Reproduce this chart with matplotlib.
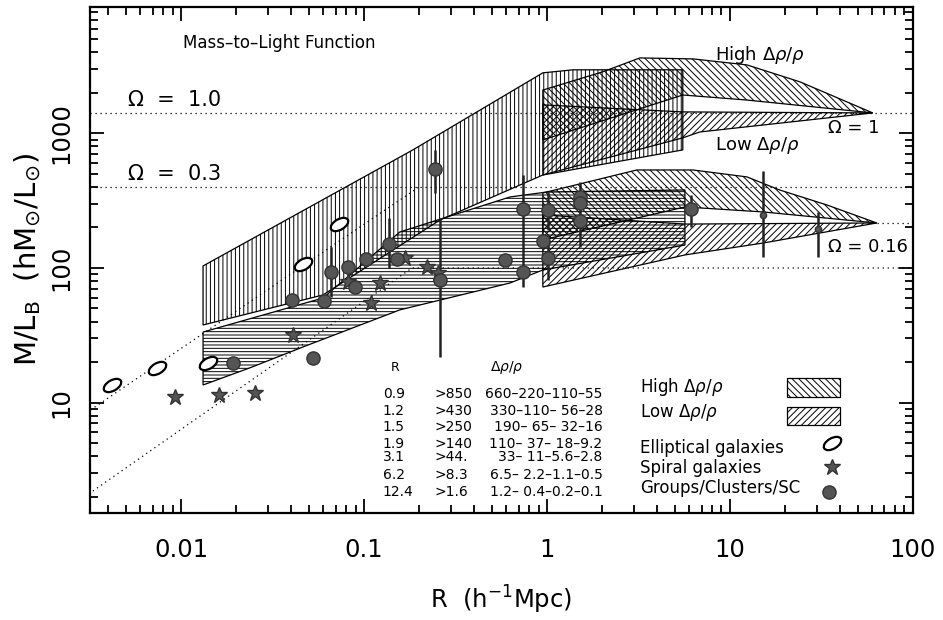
import matplotlib
matplotlib.use("Agg")
import matplotlib.pyplot as plt
from matplotlib.path import Path
from matplotlib.transforms import Affine2D
from matplotlib.patches import Rectangle

plt.rcParams["font.family"] = ["DejaVu Sans"]
plt.rcParams["mathtext.fontset"] = "dejavusans"
plt.rcParams["hatch.linewidth"] = 0.7

# ---- data (R in h^-1 Mpc, M/L_B in h M_sun/L_sun) ----
ell_r = [0.0042, 0.0074, 0.0141, 0.0465, 0.073]
ell_ml = [13.5, 18.1, 19.7, 107, 212]

sp_r = [0.0093, 0.0161, 0.0254, 0.041, 0.082, 0.122, 0.109, 0.168, 0.221, 0.254]
sp_ml = [11.0, 11.4, 11.8, 31.8, 78.7, 77.3, 55, 119, 102, 92]

gc_r = [0.0192, 0.0526, 0.0404, 0.0604, 0.066, 0.082, 0.0893, 0.1025, 0.137, 0.151,
        0.244, 0.26, 0.589, 0.74, 0.74, 0.95, 1.01, 1.01, 1.51, 1.51, 1.51, 6.1]
gc_ml = [19.7, 21.4, 57.8, 56.9, 93.4, 102, 72.2, 117, 151, 117,
         545, 81.5, 115, 275, 93, 159, 270, 119, 337, 304, 223, 275]

sc_r = [15.1, 30.3]
sc_ml = [248, 195]

err_r = [0.066, 0.137, 0.244, 0.26, 0.74, 1.01, 1.01, 1.51, 6.1, 15.1, 30.3]
err_lo = [60.8, 100, 361, 21.8, 72, 192, 81.5, 143, 202, 121, 121]
err_hi = [143, 235, 754, 235, 491, 367, 173, 436, 349, 526, 261]

# bands: (R, M/L) along the upper edge then back along the lower edge
vert_band = [(0.0132, 103.5), (0.185, 754), (0.95, 2820), (1.39, 2970), (5.53, 2970),
             (5.53, 754), (0.95, 491), (0.26, 227), (0.0597, 63), (0.0132, 37.7)]
horiz_band = [(0.0132, 33.4), (0.0597, 59.8), (0.157, 185), (0.628, 337), (1.0, 367), (5.68, 380),
              (5.68, 148), (0.95, 96.6), (0.628, 77.3), (0.157, 48.8), (0.0465, 25.9),
              (0.0238, 18.1), (0.0132, 13.5)]
hi_om1 = [(0.95, 2100), (2.02, 2870), (3.22, 3640), (6.28, 3580), (12.4, 3230), (24.2, 2415),
          (60.4, 1420), (12.4, 1770), (5.53, 1930), (0.95, 895)]
lo_om1 = [(0.95, 1630), (5.53, 1445), (60.4, 1420), (6.85, 1025), (5.53, 927), (0.95, 491)]
hi_om016 = [(0.95, 361), (3.1, 535), (6.28, 535), (12.4, 475), (18.7, 380), (33.9, 294),
            (63.5, 216), (15.1, 261), (5.68, 284), (0.95, 162)]
lo_om016 = [(0.95, 248), (5.68, 212), (63.5, 216), (15.1, 153), (5.68, 125), (0.95, 72.2)]

# dotted reference lines
om1_level = 1420
om03_level = 400
om016_level = 216
ell_line = [(0.0032, 8.8), (0.2, 400)]
sp_line = [(0.0033, 2.2), (0.183, 100), (100, 100)]

table_r = ["0.9", "1.2", "1.5", "1.9", "3.1", "6.2", "12.4"]
table_dn = [">850", ">430", ">250", ">140", ">44.", ">8.3", ">1.6"]
table_rng = ["660–220–110–55", "330–110– 56–28", "190– 65– 32–16", "110– 37– 18–9.2",
             "33– 11–5.6–2.8", "6.5– 2.2–1.1–0.5", "1.2– 0.4–0.2–0.1"]

fig = plt.figure(figsize=(9.43, 6.2), dpi=100)
ax = fig.add_axes([0.0954, 0.1726, 0.8726, 0.8161])
ax.set_xscale("log")
ax.set_yscale("log")
ax.set_xlim(0.00318, 100)
ax.set_ylim(1.51, 8700)


def band(pts, hatch):
    xs = [p[0] for p in pts]
    ys = [p[1] for p in pts]
    ax.fill(xs, ys, facecolor="none", edgecolor="black", hatch=hatch, linewidth=0.9, zorder=2)


band(vert_band, "||||")
band(horiz_band, "-----")
band(hi_om1, "\\\\\\\\\\")
band(lo_om1, "/////")
band(hi_om016, "\\\\\\\\\\")
band(lo_om016, "/////")

dot = dict(color="black", linestyle=(0, (1, 3)), linewidth=0.9, zorder=1)
ax.axhline(om1_level, **dot)
ax.axhline(om03_level, **dot)
ax.plot([63.5, 100], [om016_level, om016_level], **dot)
ax.plot([p[0] for p in ell_line], [p[1] for p in ell_line], **dot)
ax.plot([p[0] for p in sp_line], [p[1] for p in sp_line], **dot)

ax.vlines(err_r, err_lo, err_hi, color="#222222", linewidth=1.8, zorder=3)

ell_marker = Path.unit_circle().transformed(Affine2D().scale(1.0, 0.55).rotate_deg(30))
ax.plot(ell_r, ell_ml, linestyle="none", marker=ell_marker, markersize=13,
        markerfacecolor="white", markeredgecolor="black", markeredgewidth=1.6, zorder=4)
ax.plot(sp_r, sp_ml, linestyle="none", marker="*", markersize=12,
        color="#555555", markeredgecolor="#333333", zorder=4)
ax.plot(gc_r, gc_ml, linestyle="none", marker="o", markersize=9.5,
        color="#555555", markeredgecolor="#333333", zorder=4)
ax.plot(sc_r, sc_ml, linestyle="none", marker="o", markersize=4.5,
        color="#555555", markeredgecolor="#333333", zorder=4)

# labels on the plot
ax.text(0.113, 0.929, "Mass–to–Light Function", transform=ax.transAxes, fontsize=12, va="center")
ax.text(0.046, 0.816, "Ω  =  1.0", transform=ax.transAxes, fontsize=15, va="center")
ax.text(0.046, 0.670, "Ω  =  0.3", transform=ax.transAxes, fontsize=15, va="center")
ax.text(0.759, 0.905, r"High $\Delta\rho/\rho$", transform=ax.transAxes, fontsize=13, va="center")
ax.text(0.759, 0.727, r"Low $\Delta\rho/\rho$", transform=ax.transAxes, fontsize=13, va="center")
ax.text(0.897, 0.761, "Ω = 1", transform=ax.transAxes, fontsize=13, va="center")
ax.text(0.897, 0.526, "Ω = 0.16", transform=ax.transAxes, fontsize=13, va="center")

# little table
ax.text(0.3706, 0.2885, "R", transform=ax.transAxes, fontsize=9, ha="center", va="center")
ax.text(0.5067, 0.2885, r"$\Delta\rho/\rho$", transform=ax.transAxes, fontsize=10, ha="center", va="center")
row_y = [0.235, 0.2016, 0.170, 0.136, 0.1107, 0.0751, 0.0415]
for i in range(len(table_r)):
    ax.text(0.356, row_y[i], table_r[i], transform=ax.transAxes, fontsize=10, va="center")
    ax.text(0.419, row_y[i], table_dn[i], transform=ax.transAxes, fontsize=10, va="center")
    ax.text(0.623, row_y[i], table_rng[i], transform=ax.transAxes, fontsize=10, va="center", ha="right")

# legend (drawn by hand like the original)
ax.text(0.668, 0.249, r"High $\Delta\rho/\rho$", transform=ax.transAxes, fontsize=12, va="center")
ax.text(0.668, 0.198, r"Low $\Delta\rho/\rho$", transform=ax.transAxes, fontsize=12, va="center")
ax.text(0.668, 0.128, "Elliptical galaxies", transform=ax.transAxes, fontsize=12, va="center")
ax.text(0.668, 0.089, "Spiral galaxies", transform=ax.transAxes, fontsize=12, va="center")
ax.text(0.668, 0.049, "Groups/Clusters/SC", transform=ax.transAxes, fontsize=12, va="center")
ax.add_patch(Rectangle((0.847, 0.229), 0.0644, 0.0375, transform=ax.transAxes,
                       facecolor="none", edgecolor="black", hatch="\\\\\\\\\\", linewidth=0.9))
ax.add_patch(Rectangle((0.847, 0.174), 0.0644, 0.0356, transform=ax.transAxes,
                       facecolor="none", edgecolor="black", hatch="/////", linewidth=0.9))
ax.plot([0.9016], [0.138], transform=ax.transAxes, marker=ell_marker, markersize=13,
        markerfacecolor="white", markeredgecolor="black", markeredgewidth=1.6)
ax.plot([0.9016], [0.091], transform=ax.transAxes, marker="*", markersize=12,
        color="#555555", markeredgecolor="#333333")
ax.plot([0.898], [0.0415], transform=ax.transAxes, marker="o", markersize=9.5,
        color="#555555", markeredgecolor="#333333")

# axes styling
ax.set_xticks([0.01, 0.1, 1, 10, 100])
ax.set_xticklabels(["0.01", "0.1", "1", "10", "100"])
ax.set_yticks([10, 100, 1000])
ax.set_yticklabels(["10", "100", "1000"], rotation=90, va="center")
ax.tick_params(which="both", direction="in", top=True, right=True, width=1.3)
ax.tick_params(which="major", length=10, labelsize=17.5)
ax.tick_params(axis="x", which="major", pad=18)
ax.tick_params(axis="y", which="major", pad=12)
ax.tick_params(which="minor", length=6)
for s in ax.spines.values():
    s.set_linewidth(1.6)

ax.set_xlabel(r"R  (h$^{-1}$Mpc)", fontsize=17.5, va="center")
ax.xaxis.set_label_coords(0.50, -0.172)
ax.set_ylabel(r"M/L$_{\rm B}$  (hM$_{\odot}$/L$_{\odot}$)", fontsize=21)
ax.yaxis.set_label_coords(-0.057, 0.5)

plt.savefig("out.png", dpi=100)
